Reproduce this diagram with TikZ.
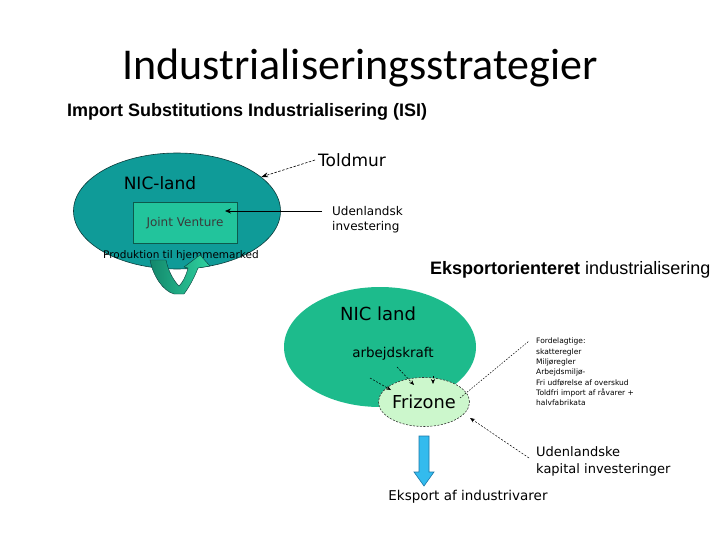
\documentclass[tikz,border=0pt]{standalone}
\usepackage{fontspec}
\setmainfont{DejaVu Sans}
\newfontfamily\titlefont{Carlito}
\newfontfamily\arialfont{Liberation Sans}
\usetikzlibrary{arrows.meta,shapes.geometric}
\definecolor{tealE}{HTML}{0F9B98}
\definecolor{tealEdge}{HTML}{0B3B3A}
\definecolor{jvFill}{HTML}{22C49C}
\definecolor{jvEdge}{HTML}{0D5A4C}
\definecolor{nicG}{HTML}{1DBB8C}
\definecolor{friG}{HTML}{CCF7CC}
\definecolor{loopA}{HTML}{13876B}
\definecolor{loopB}{HTML}{2FD3A0}
\definecolor{blueA}{HTML}{33BBEE}
\definecolor{blueB}{HTML}{1A78A8}
\definecolor{jvText}{HTML}{3A3A3A}
\begin{document}
\begin{tikzpicture}[x=1pt,y=-1pt,
  lbl/.style={inner sep=0pt},
  blob/.style={ellipse, inner sep=0pt},
  smallarrow/.style={dashed, dash pattern=on 2pt off 1.5pt, line width=0.5pt, -{Stealth[length=5pt,width=4pt]}},
  solidarrow/.style={line width=0.7pt, -{Stealth[length=6pt,width=5pt]}},
  dotline/.style={dash pattern=on 1.5pt off 1.5pt, line width=0.5pt}
]
\useasboundingbox (0,0) rectangle (720,540);

% titles
\node[lbl, anchor=base, font=\titlefont\fontsize{44}{50}\selectfont] (title) at (360,80) {Industrialiseringsstrategier};
\node[lbl, anchor=base west, font=\arialfont\bfseries\fontsize{18}{20}\selectfont] (isititle) at (67,117) {Import Substitutions Industrialisering (ISI)};
\node[lbl, anchor=base west, font=\arialfont\fontsize{18}{20}\selectfont] (eoititle) at (430,274) {\textbf{Eksportorienteret} industrialisering};

% ISI part
\node[blob, fill=tealE, draw=tealEdge, line width=0.6pt, minimum width=207pt, minimum height=116pt] (isi) at (177,211) {};
\node[lbl, font=\fontsize{17}{20}\selectfont] (niclabel) at (160,183) {NIC-land};
\node[rectangle, fill=jvFill, draw=jvEdge, line width=0.6pt, minimum width=104pt, minimum height=41pt, inner sep=0pt, text=jvText, font=\fontsize{12}{14}\selectfont] (jv) at (185,223) {Joint Venture};
\node[lbl, font=\fontsize{10.5}{12}\selectfont] (prod) at (181,256) {Produktion til hjemmemarked};
\node[inner sep=3pt, anchor=west, font=\fontsize{17}{20}\selectfont] (toldmur) at (315,160) {Toldmur};
\node[inner sep=2pt, anchor=west, font=\fontsize{12}{14}\selectfont] (udl1) at (330,211) {Udenlandsk};
\node[inner sep=2pt, anchor=west, font=\fontsize{12}{14}\selectfont] (udl2) at (330,227) {investering};

% loop arrow
\path[left color=loopA, right color=loopB, draw=tealEdge, line width=0.4pt]
  (150,260) .. controls (153,276) and (163,291) .. (174,294)
  -- (184,294) .. controls (190,286) and (195,276) .. (198,268)
  -- (210,266) -- (200,255) -- (184,267) -- (188,268)
  .. controls (186,276) and (183,282) .. (179,286)
  .. controls (173,280) and (168,270) .. (166,260) -- cycle;

\coordinate (jvin) at (225,211);
\draw[dashed, dash pattern=on 2.5pt off 1.5pt, line width=0.6pt, -{Stealth[length=7pt,width=5pt]}] (toldmur.west) -- (isi.22);
\draw[solidarrow] ([xshift=-8pt]udl1.west) -- (jvin);

% EOI part
\node[blob, fill=nicG, minimum width=192pt, minimum height=120pt] (nic) at (380,347) {};
\node[lbl, font=\fontsize{18}{20}\selectfont] (nic2label) at (378,314) {NIC land};
\node[lbl, font=\fontsize{13.5}{16}\selectfont] (arb) at (393,354) {arbejdskraft};
\node[blob, fill=friG, draw=black!80, dash pattern=on 2pt off 1.5pt, line width=0.6pt, minimum width=91pt, minimum height=49pt] (fz) at (424,402) {};
\node[lbl, font=\fontsize{17.8}{20}\selectfont] (fzlabel) at (424,402) {Frizone};

\node[lbl, anchor=north west, align=left, font=\fontsize{7.5}{10.3}\selectfont] (list) at (536,338)
  {Fordelagtige:\\skatteregler\\Miljøregler\\Arbejdsmiljø-\\Fri udførelse af overskud\\Toldfri import af råvarer +\\halvfabrikata};
\node[lbl, anchor=north west, align=left, font=\fontsize{13}{17}\selectfont] (kap) at (536,446)
  {Udenlandske\\kapital investeringer};
\node[lbl, font=\fontsize{13.5}{16}\selectfont] (eksport) at (468,497) {Eksport af industrivarer};

% small arrows into Frizone
\coordinate (a1s) at (370,378); \coordinate (a1e) at (391,390);
\coordinate (a2s) at (397,367); \coordinate (a2e) at (414,385);
\coordinate (a3s) at (433,376); \coordinate (a3e) at (433,384);
\draw[smallarrow] (a1s) -- (a1e);
\draw[smallarrow] (a2s) -- (a2e);
\draw[smallarrow] (a3s) -- (a3e);

\coordinate (fzin) at (460,398);
\coordinate (liststart) at (529,341);
\draw[dotline] (fzin) -- (liststart);

\coordinate (kapstart) at (529,458);
\coordinate (fzedge) at (470,418);
\draw[smallarrow] (kapstart) -- (fzedge);

% blue export arrow
\path[fill=blueA, draw=blueB, line width=0.6pt]
  (419,436) -- (429,436) -- (429,472) -- (434,472) -- (424,486) -- (414,472) -- (419,472) -- cycle;
\end{tikzpicture}
\end{document}
